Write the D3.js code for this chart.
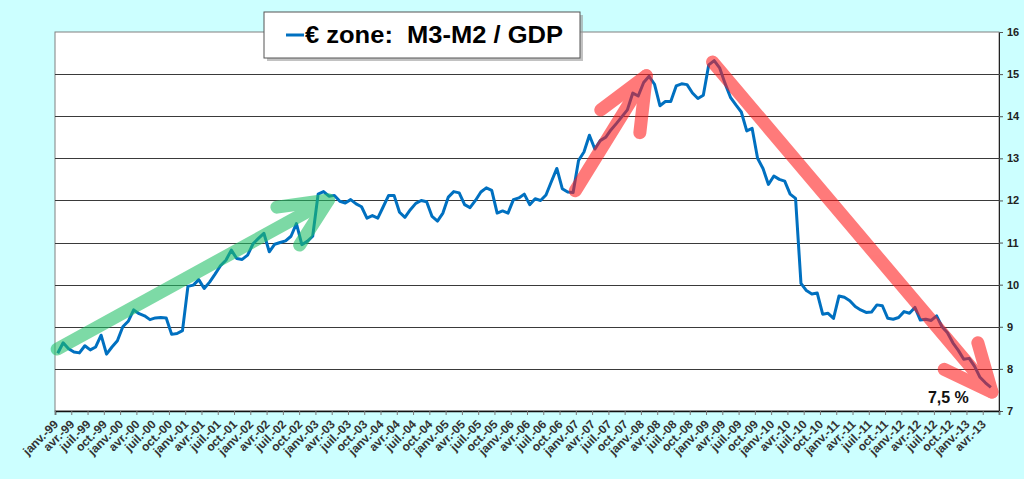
<!DOCTYPE html>
<html>
<head>
<meta charset="utf-8">
<script src="https://cdn.jsdelivr.net/npm/d3@7"></script>
<style>
  body { margin: 0; background: #ccffff; }
  svg { display: block; }
</style>
</head>
<body>
<script>
// monthly M3-M2 / GDP ratio, janv.-99 .. mai-13
const values = [
  8.37, 8.62, 8.48, 8.40, 8.38, 8.55, 8.45, 8.52, 8.80, 8.35, 8.52, 8.67,
  9.00, 9.13, 9.40, 9.31, 9.26, 9.17, 9.21, 9.22, 9.21, 8.82, 8.84, 8.91,
  9.96, 9.99, 10.12, 9.91, 10.06, 10.25, 10.45, 10.58, 10.82, 10.62, 10.60, 10.70,
  10.97, 11.10, 11.22, 10.78, 10.96, 11.00, 11.04, 11.15, 11.45, 10.95, 11.03, 11.15,
  12.15, 12.21, 12.10, 12.12, 11.98, 11.94, 12.02, 11.92, 11.85, 11.58, 11.64, 11.58,
  11.85, 12.12, 12.12, 11.72, 11.60, 11.78, 11.93, 12.00, 11.97, 11.62, 11.51, 11.70,
  12.08, 12.21, 12.18, 11.90, 11.83, 12.00, 12.20, 12.30, 12.24, 11.70, 11.75, 11.70,
  12.02, 12.06, 12.15, 11.90, 12.04, 12.00, 12.13, 12.45, 12.76, 12.28, 12.20, 12.19,
  12.95, 13.15, 13.55, 13.22, 13.42, 13.50, 13.68, 13.83, 13.99, 14.15, 14.55, 14.48,
  14.80, 14.95, 14.76, 14.25, 14.35, 14.35, 14.72, 14.77, 14.75, 14.55, 14.42, 14.50,
  15.22, 15.32, 15.15, 14.78, 14.45, 14.27, 14.10, 13.65, 13.71, 13.00, 12.76, 12.38,
  12.58, 12.50, 12.46, 12.15, 12.05, 10.03, 9.86, 9.78, 9.80, 9.30, 9.32, 9.20,
  9.73, 9.70, 9.62, 9.48, 9.40, 9.34, 9.35, 9.52, 9.50, 9.20, 9.18, 9.22,
  9.36, 9.32, 9.46, 9.16, 9.18, 9.15, 9.26, 9.00, 8.86, 8.62, 8.44, 8.23,
  8.25, 8.06, 7.80, 7.67, 7.56
];

const monthNames = ["janv.", "avr.", "juil.", "oct."];
const firstYear = 1999;
// one label every quarter: janv.-99 .. avr.-13
const tickLabels = d3.range(0, 172, 3).map(m => {
  const y = String((firstYear + Math.floor(m / 12)) % 100).padStart(2, "0");
  return monthNames[(m % 12) / 3] + "-" + y;
});
const yTicks = d3.range(7, 17);

// hand-drawn arrows, in (month, value) units: shaft start, tip, two arm ends
const greenArrow = [[0.4, 8.47], [50.4, 12.01], [40.9, 11.84], [45.1, 10.94]];
const redArrows = [
  [[95.9, 12.23], [109.0, 14.96], [100.6, 14.15], [107.8, 13.61]],
  [[121.2, 15.29], [172.7, 7.45], [170.1, 8.62], [163.9, 7.99]]
];
const note = {m: 160.9, v: 7.19, text: "7,5 %"};

const width = 1024, height = 479;
const margin = {top: 32, right: 25, bottom: 68, left: 55};

const svg = d3.select("body").append("svg")
    .attr("width", width)
    .attr("height", height);

const x = d3.scaleLinear()
    .domain([0, 174])
    .range([margin.left, width - margin.right]);

const y = d3.scaleLinear()
    .domain([7, 16])
    .range([height - margin.bottom, margin.top]);

// plot area
svg.append("rect")
    .attr("x", x(0))
    .attr("y", y(16))
    .attr("width", x(174) - x(0))
    .attr("height", y(7) - y(16))
    .attr("fill", "#fff")
    .attr("stroke", "#808080")
    .attr("stroke-width", 1);

// gridlines
svg.append("g")
  .selectAll("line")
  .data(yTicks.filter(d => d > 7 && d < 16))
  .join("line")
    .attr("x1", x(0))
    .attr("x2", x(174))
    .attr("y1", d => Math.round(y(d)) + 0.5)
    .attr("y2", d => Math.round(y(d)) + 0.5)
    .attr("stroke", "#3a3a3a")
    .attr("stroke-width", 1);

// right value axis
const yAxis = svg.append("g")
    .attr("transform", `translate(${x(174)},0)`)
    .call(d3.axisRight(y).tickValues(yTicks).tickSize(4).tickPadding(4).tickFormat(d3.format("d")));
yAxis.select(".domain").attr("stroke", "#222");
yAxis.selectAll(".tick line").attr("stroke", "#555");
yAxis.selectAll("text")
    .attr("font-family", "Liberation Sans Narrow, Arial Narrow, Liberation Sans, Arial, sans-serif")
    .attr("font-size", 11)
    .attr("font-weight", "bold")
    .attr("fill", "#222");

// bottom category axis
const xAxis = svg.append("g")
    .attr("transform", `translate(0,${y(7)})`)
    .call(d3.axisBottom(x).tickValues(d3.range(0, 175, 3)).tickSize(4).tickFormat(""));
xAxis.select(".domain").attr("stroke", "#111").attr("stroke-width", 1.5);
xAxis.selectAll(".tick line").attr("stroke", "#777");

svg.append("g")
  .selectAll("text")
  .data(tickLabels)
  .join("text")
    .attr("transform", (d, i) => `translate(${x(i * 3) + 4},${y(7) + 14}) rotate(-45)`)
    .attr("text-anchor", "end")
    .attr("font-family", "Liberation Sans, Arial, sans-serif")
    .attr("font-size", 12)
    .attr("font-weight", "bold")
    .attr("fill", "#333")
    .text(d => d);

// the series
const line = d3.line()
    .x((d, i) => x(i + 0.5))
    .y(d => y(d));

svg.append("path")
    .datum(values)
    .attr("fill", "none")
    .attr("stroke", "#0070c0")
    .attr("stroke-width", 3)
    .attr("stroke-linejoin", "round")
    .attr("d", line);

// arrows drawn over the line, translucent
function arrow(pts, color) {
  const p = pts.map(([m, v]) => [x(m), y(v)]);
  const g = svg.append("g")
      .attr("stroke", color)
      .attr("stroke-width", 13)
      .attr("stroke-linecap", "round")
      .attr("stroke-linejoin", "round")
      .attr("fill", "none")
      .attr("opacity", 0.58);
  g.append("path").attr("d", d3.line()([p[0], p[1]]));
  g.append("path").attr("d", d3.line()([p[2], p[1], p[3]]));
}
arrow(greenArrow, "#1fbf65");
redArrows.forEach(a => arrow(a, "#ff1a1a"));

svg.append("text")
    .attr("x", x(note.m))
    .attr("y", y(note.v))
    .attr("font-family", "Liberation Sans, Arial, sans-serif")
    .attr("font-size", 16)
    .attr("font-weight", "bold")
    .attr("fill", "#111")
    .text(note.text);

// legend box
const legend = svg.append("g").attr("transform", "translate(264,12)");
legend.append("rect")
    .attr("x", 3).attr("y", 3)
    .attr("width", 316).attr("height", 46)
    .attr("fill", "#9a9a9a")
    .attr("opacity", 0.6);
legend.append("rect")
    .attr("width", 316).attr("height", 46)
    .attr("fill", "#fff")
    .attr("stroke", "#555");
legend.append("line")
    .attr("x1", 22).attr("x2", 40)
    .attr("y1", 23).attr("y2", 23)
    .attr("stroke", "#0070c0")
    .attr("stroke-width", 3);
legend.append("text")
    .attr("x", 41)
    .attr("y", 31)
    .attr("font-family", "Liberation Sans, Arial, sans-serif")
    .attr("font-size", 23)
    .attr("font-weight", "bold")
    .attr("fill", "#000")
    .attr("textLength", 258)
    .attr("lengthAdjust", "spacingAndGlyphs")
    .style("white-space", "pre")
    .text("€ zone:  M3-M2 / GDP");
</script>
</body>
</html>
